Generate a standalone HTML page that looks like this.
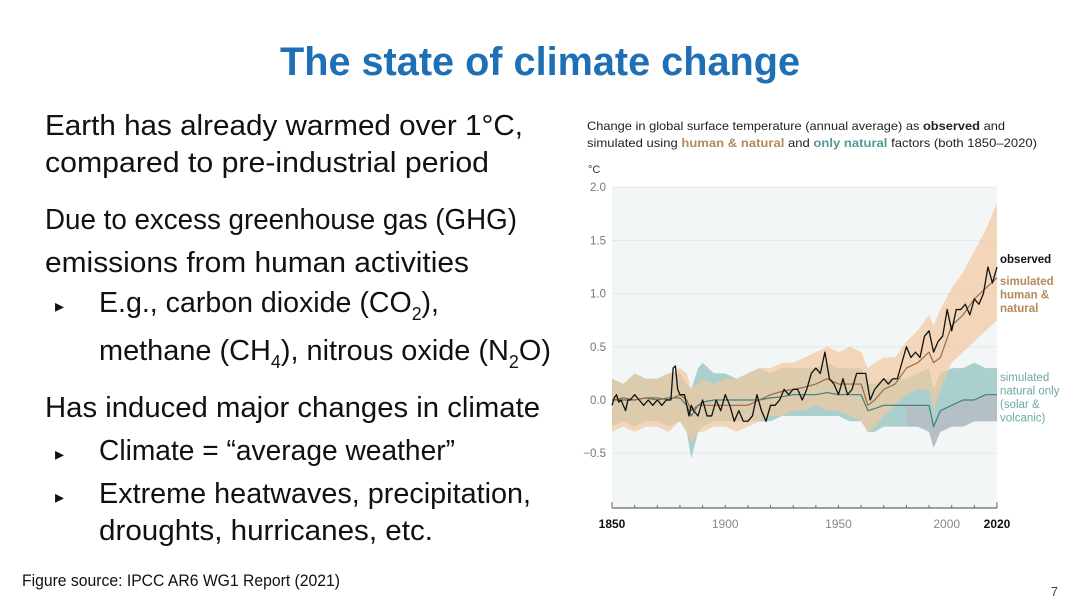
<!DOCTYPE html>
<html><head><meta charset="utf-8"><style>
html,body{margin:0;padding:0;background:#fff;}
svg{display:block;font-family:"Liberation Sans",sans-serif;}
</style></head><body>
<svg id="slide" width="1080" height="608" viewBox="0 0 1080 608">
<text x="540" y="75" text-anchor="middle" font-size="40" font-weight="bold" fill="#1f6fb6" textLength="520" lengthAdjust="spacingAndGlyphs">The state of climate change</text>
<g fill="#111" font-size="29">
<text x="45" y="135" textLength="478" lengthAdjust="spacingAndGlyphs">Earth has already warmed over 1°C,</text>
<text x="45" y="172" textLength="444" lengthAdjust="spacingAndGlyphs">compared to pre-industrial period</text>
<text x="45" y="229" textLength="472" lengthAdjust="spacingAndGlyphs">Due to excess greenhouse gas (GHG)</text>
<text x="45" y="272" textLength="424" lengthAdjust="spacingAndGlyphs">emissions from human activities</text>
<text x="55" y="312" font-size="18">▸</text>
<text x="99" y="312" textLength="340" lengthAdjust="spacingAndGlyphs">E.g., carbon dioxide (CO<tspan font-size="18" dy="8">2</tspan><tspan dy="-8">),</tspan></text>
<text x="99" y="360" textLength="452" lengthAdjust="spacingAndGlyphs">methane (CH<tspan font-size="18" dy="8">4</tspan><tspan dy="-8">), nitrous oxide (N</tspan><tspan font-size="18" dy="8">2</tspan><tspan dy="-8">O)</tspan></text>
<text x="45" y="417" textLength="495" lengthAdjust="spacingAndGlyphs">Has induced major changes in climate</text>
<text x="55" y="460" font-size="18">▸</text>
<text x="99" y="460" textLength="356" lengthAdjust="spacingAndGlyphs">Climate = “average weather”</text>
<text x="55" y="503" font-size="18">▸</text>
<text x="99" y="503" textLength="432" lengthAdjust="spacingAndGlyphs">Extreme heatwaves, precipitation,</text>
<text x="99" y="540" textLength="334" lengthAdjust="spacingAndGlyphs">droughts, hurricanes, etc.</text>
</g>
<text x="22" y="586" font-size="17" fill="#111" textLength="318" lengthAdjust="spacingAndGlyphs">Figure source: IPCC AR6 WG1 Report (2021)</text>
<text x="1058" y="596" font-size="13" fill="#444" text-anchor="end">7</text>
<g font-size="12" fill="#222">
<text x="587" y="130" textLength="418" lengthAdjust="spacingAndGlyphs">Change in global surface temperature (annual average) as <tspan font-weight="bold">observed</tspan> and</text>
<text x="587" y="147" textLength="450" lengthAdjust="spacingAndGlyphs">simulated using <tspan font-weight="bold" fill="#b5895a">human &amp; natural</tspan> and <tspan font-weight="bold" fill="#4e9a96">only natural</tspan> factors (both 1850–2020)</text>
</g>
<g id="chart"></g>
</svg>
<script>
const obsYears=[1850,1851,1852,1853,1854,1855,1856,1857,1858,1860,1862,1864,1866,1868,1870,1872,1874,1876,1877,1878,1879,1880,1882,1884,1885,1886,1888,1890,1892,1894,1896,1898,1900,1902,1904,1906,1908,1910,1912,1914,1916,1918,1920,1922,1924,1926,1928,1930,1932,1934,1936,1938,1940,1942,1944,1946,1948,1950,1952,1954,1956,1958,1960,1962,1964,1966,1968,1970,1972,1974,1976,1978,1980,1982,1984,1986,1988,1990,1992,1994,1996,1998,2000,2002,2004,2006,2008,2010,2012,2014,2016,2018,2020];
const obsValues=[-0.05,0.02,0.05,-0.02,0.0,-0.05,-0.1,0.0,0.0,0.05,0.0,-0.05,0.0,-0.05,0.0,-0.05,0.0,0.0,0.3,0.32,0.1,0.05,0.05,-0.15,-0.05,-0.1,-0.15,0.0,-0.15,-0.15,0.0,-0.1,0.05,-0.05,-0.2,-0.1,-0.2,-0.2,-0.15,0.05,-0.1,-0.2,-0.05,-0.05,0.0,0.1,0.05,0.1,0.1,0.0,0.1,0.25,0.3,0.25,0.45,0.2,0.15,0.05,0.2,0.05,0.1,0.25,0.25,0.25,0.0,0.1,0.15,0.2,0.15,0.2,0.2,0.35,0.5,0.4,0.45,0.4,0.6,0.65,0.45,0.55,0.6,0.85,0.65,0.85,0.85,0.9,0.8,0.95,0.9,1.0,1.25,1.1,1.25];
const simYears=[1850,1855,1860,1865,1870,1875,1880,1883,1885,1888,1890,1895,1900,1905,1910,1915,1920,1925,1930,1935,1940,1945,1950,1955,1960,1963,1966,1970,1975,1980,1985,1990,1992,1995,2000,2005,2010,2015,2020];
const humanMean=[0.0,0.02,0.0,0.02,0.02,0.0,0.05,0.0,-0.1,-0.05,-0.05,-0.05,-0.05,-0.05,-0.05,0.0,0.05,0.08,0.1,0.12,0.15,0.2,0.15,0.15,0.15,-0.05,0.0,0.1,0.15,0.3,0.35,0.45,0.35,0.4,0.7,0.8,0.95,1.05,1.15];
const humanUpper=[0.2,0.15,0.25,0.2,0.2,0.25,0.3,0.25,0.1,0.15,0.2,0.15,0.2,0.2,0.25,0.3,0.3,0.35,0.35,0.4,0.45,0.5,0.45,0.5,0.45,0.3,0.35,0.4,0.4,0.55,0.65,0.8,0.7,0.85,1.05,1.2,1.4,1.6,1.85];
const humanLower=[-0.3,-0.25,-0.3,-0.25,-0.25,-0.3,-0.2,-0.3,-0.4,-0.3,-0.3,-0.25,-0.25,-0.3,-0.25,-0.2,-0.15,-0.15,-0.1,-0.1,-0.05,-0.1,-0.1,-0.15,-0.2,-0.3,-0.25,-0.15,-0.05,0.05,0.1,0.1,-0.1,0.1,0.35,0.45,0.55,0.65,0.75];
const natMean=[0.0,0.0,0.0,0.02,0.0,0.02,0.02,-0.05,-0.15,-0.05,-0.02,0.0,0.0,0.0,0.0,0.0,0.02,0.03,0.05,0.05,0.05,0.07,0.05,0.05,0.05,-0.1,-0.08,-0.05,-0.05,-0.05,-0.05,-0.05,-0.25,-0.1,-0.05,0.0,0.0,0.05,0.05];
const natUpper=[0.2,0.15,0.25,0.2,0.2,0.25,0.25,0.15,0.1,0.3,0.35,0.25,0.25,0.2,0.25,0.3,0.25,0.3,0.3,0.3,0.3,0.35,0.3,0.3,0.3,0.15,0.15,0.2,0.2,0.2,0.25,0.3,0.1,0.25,0.3,0.3,0.35,0.3,0.3];
const natLower=[-0.25,-0.2,-0.25,-0.2,-0.2,-0.25,-0.2,-0.3,-0.55,-0.3,-0.25,-0.2,-0.2,-0.2,-0.2,-0.2,-0.2,-0.15,-0.15,-0.15,-0.15,-0.15,-0.15,-0.2,-0.2,-0.3,-0.3,-0.25,-0.25,-0.25,-0.25,-0.3,-0.45,-0.3,-0.25,-0.25,-0.2,-0.2,-0.2];
const yTicks=[2.0,1.5,1.0,0.5,0.0,-0.5];
const yTickLabels=["2.0","1.5","1.0","0.5","0.0","−0.5"];
const xTicks=[1850,1900,1950,2000,2020];

const NS="http://www.w3.org/2000/svg";
const X0=612,X1=997,Y0=188,YB=508;
const xs=y=>X0+(y-1850)/(2020-1850)*(X1-X0);
const ys=v=>400-v*106.4;
const g=document.getElementById('chart');
function mk(tag,attrs){const e=document.createElementNS(NS,tag);for(const k in attrs)e.setAttribute(k,attrs[k]);g.appendChild(e);return e;}
let bg=mk('rect',{x:X0,y:Y0,width:X1-X0,height:YB-Y0,fill:'#f3f6f6'});


yTicks.forEach((t,i)=>{
 const l=mk('line',{x1:X0,x2:X1,y1:ys(t),y2:ys(t),stroke:'#e2e6e6','stroke-width':1});
 
 
 const tx=mk('text',{x:606,y:ys(t)+4,'text-anchor':'end','font-size':11.5,fill:'#777'});
 tx.textContent=yTickLabels[i];
 
 
});
const unit=mk('text',{x:588,y:173,'font-size':11,fill:'#333'});unit.textContent='°C';


function band(years,up,lo,fill,op){
 let d='M'+years.map((y,i)=>xs(y)+','+ys(up[i])).join('L');
 d+='L'+years.slice().reverse().map((y,i)=>xs(y)+','+ys(lo[lo.length-1-i])).join('L')+'Z';
 return mk('path',{d:d,fill:fill,'fill-opacity':op});
}
function line(years,vals,stroke,w){
 return mk('path',{d:'M'+years.map((y,i)=>xs(y)+','+ys(vals[i])).join('L'),fill:'none',stroke:stroke,'stroke-width':w,'stroke-linejoin':'round'});
}
let b1=band(simYears,natUpper,natLower,'#9cc8c4',0.85);


let b2=band(simYears,humanUpper,humanLower,'#f2c9a0',0.7);


const gi=simYears.indexOf(1980);
let b3=band(simYears.slice(gi),natMean.slice(gi),natLower.slice(gi),'#b8bcc4',0.8);


let l1=line(simYears,natMean,'#3f7f7c',1.2);


let l2=line(simYears,humanMean,'#9a6b45',1.2);


let l3=line(obsYears,obsValues,'#111',1.3);


let ax=mk('line',{x1:X0,x2:X1,y1:YB,y2:YB,stroke:'#444','stroke-width':1});


for(let y=1850;y<=2020;y+=10){
 const t=mk('line',{x1:xs(y),x2:xs(y),y1:YB-((y===1850||y===2020)?6:3),y2:YB,stroke:'#666','stroke-width':1});
 
 
}
xTicks.forEach(y=>{
 const bold=(y===1850||y===2020);
 const t=mk('text',{x:xs(y)+(y===2000?-5:0),y:528,'text-anchor':'middle','font-size':12,fill:bold?'#111':'#888','font-weight':bold?'bold':'normal'});
 t.textContent=y;
 
 
});
function lab(lines,y0,color,bold,name){
 const t=mk('text',{x:1000,y:y0,'font-size':11.5,fill:color,'font-weight':bold?'bold':'normal'});
 lines.forEach((s,i)=>{const ts=document.createElementNS(NS,'tspan');ts.setAttribute('x',1000);ts.setAttribute('dy',i?13.5:0);ts.textContent=s;t.appendChild(ts);});
 
 
}
lab(['observed'],263,'#111',true,'legend-observed');
lab(['simulated','human &','natural'],285,'#b5895a',true,'legend-human-natural');
lab(['simulated','natural only','(solar &','volcanic)'],381,'#6aa9a5',false,'legend-natural-only');
</script>
</body></html>
